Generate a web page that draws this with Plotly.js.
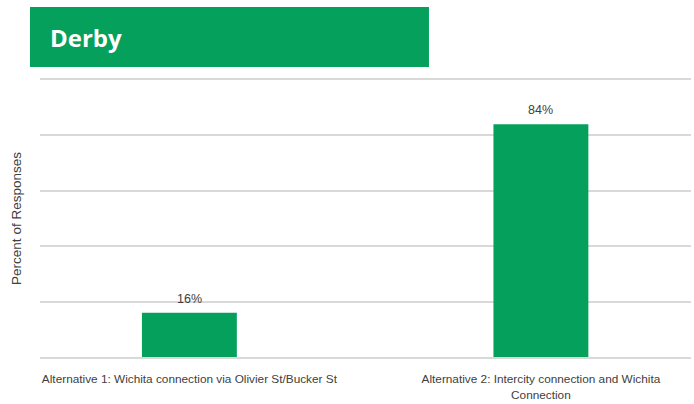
<!DOCTYPE html>
<html><head><meta charset="utf-8">
<script src="https://cdn.plot.ly/plotly-3.0.1.min.js"></script>
<style>html,body{margin:0;padding:0;background:#fff}#chart{width:694px;height:404px}</style>
</head><body><div id="chart"></div>
<script>
var categories = ["Alternative 1: Wichita connection via Olivier St/Bucker St", "Alternative 2: Intercity connection and Wichita<br>Connection"];
var values = [16, 84];
var valueLabels = ["16%", "84%"];
var chartTitle = "Derby";
var yTitle = "Percent of Responses";

var green = "#05a05b";
var txt = "#404040";
var fontFam = "'Liberation Sans', Arial, sans-serif";

var xs = [0, 1];
var trace = {
  type: "bar", x: xs, y: values,
  marker: {color: green}, width: 0.27,
  hoverinfo: "none"
};
var annotations = xs.map(function (x, i) {
  return {x: x, y: values[i], xref: "x", yref: "y", text: valueLabels[i], showarrow: false,
    yanchor: "bottom", yshift: 5, font: {family: fontFam, size: 12.5, color: txt}};
});
annotations.push({xref: "paper", yref: "paper", x: 0.013, y: 1.155, xanchor: "left", yanchor: "middle",
    text: "<b>" + chartTitle + "</b>", showarrow: false,
    font: {family: "'Open Sans', 'DejaVu Sans', sans-serif", size: 24, color: "#fff"}});
var layout = {
  width: 694, height: 404,
  margin: {l: 40, r: 3, t: 80, b: 47},
  paper_bgcolor: "#fff", plot_bgcolor: "#fff",
  showlegend: false,
  xaxis: {range: [-0.425, 1.427], tickmode: "array", tickvals: xs, ticktext: categories,
    showgrid: false, zeroline: false, showline: true, mirror: true, linecolor: "#d9d9d9", linewidth: 2,
    ticks: "", ticklabelstandoff: 10,
    tickfont: {family: fontFam, size: 11.8, color: txt}, fixedrange: true},
  yaxis: {range: [0, 100], dtick: 20, showticklabels: false, showgrid: true,
    gridcolor: "#d9d9d9", gridwidth: 2, zeroline: false, showline: false, ticks: "",
    title: {text: yTitle, font: {family: fontFam, size: 13.5, color: txt}, standoff: 14}, fixedrange: true},
  shapes: [{type: "rect", xref: "paper", yref: "paper", x0: -0.0154, x1: 0.5975, y0: 1.047, y1: 1.2635,
    fillcolor: green, line: {width: 0}}],
  annotations: annotations
};
Plotly.newPlot("chart", [trace], layout, {displayModeBar: false, staticPlot: true});
</script></body></html>
